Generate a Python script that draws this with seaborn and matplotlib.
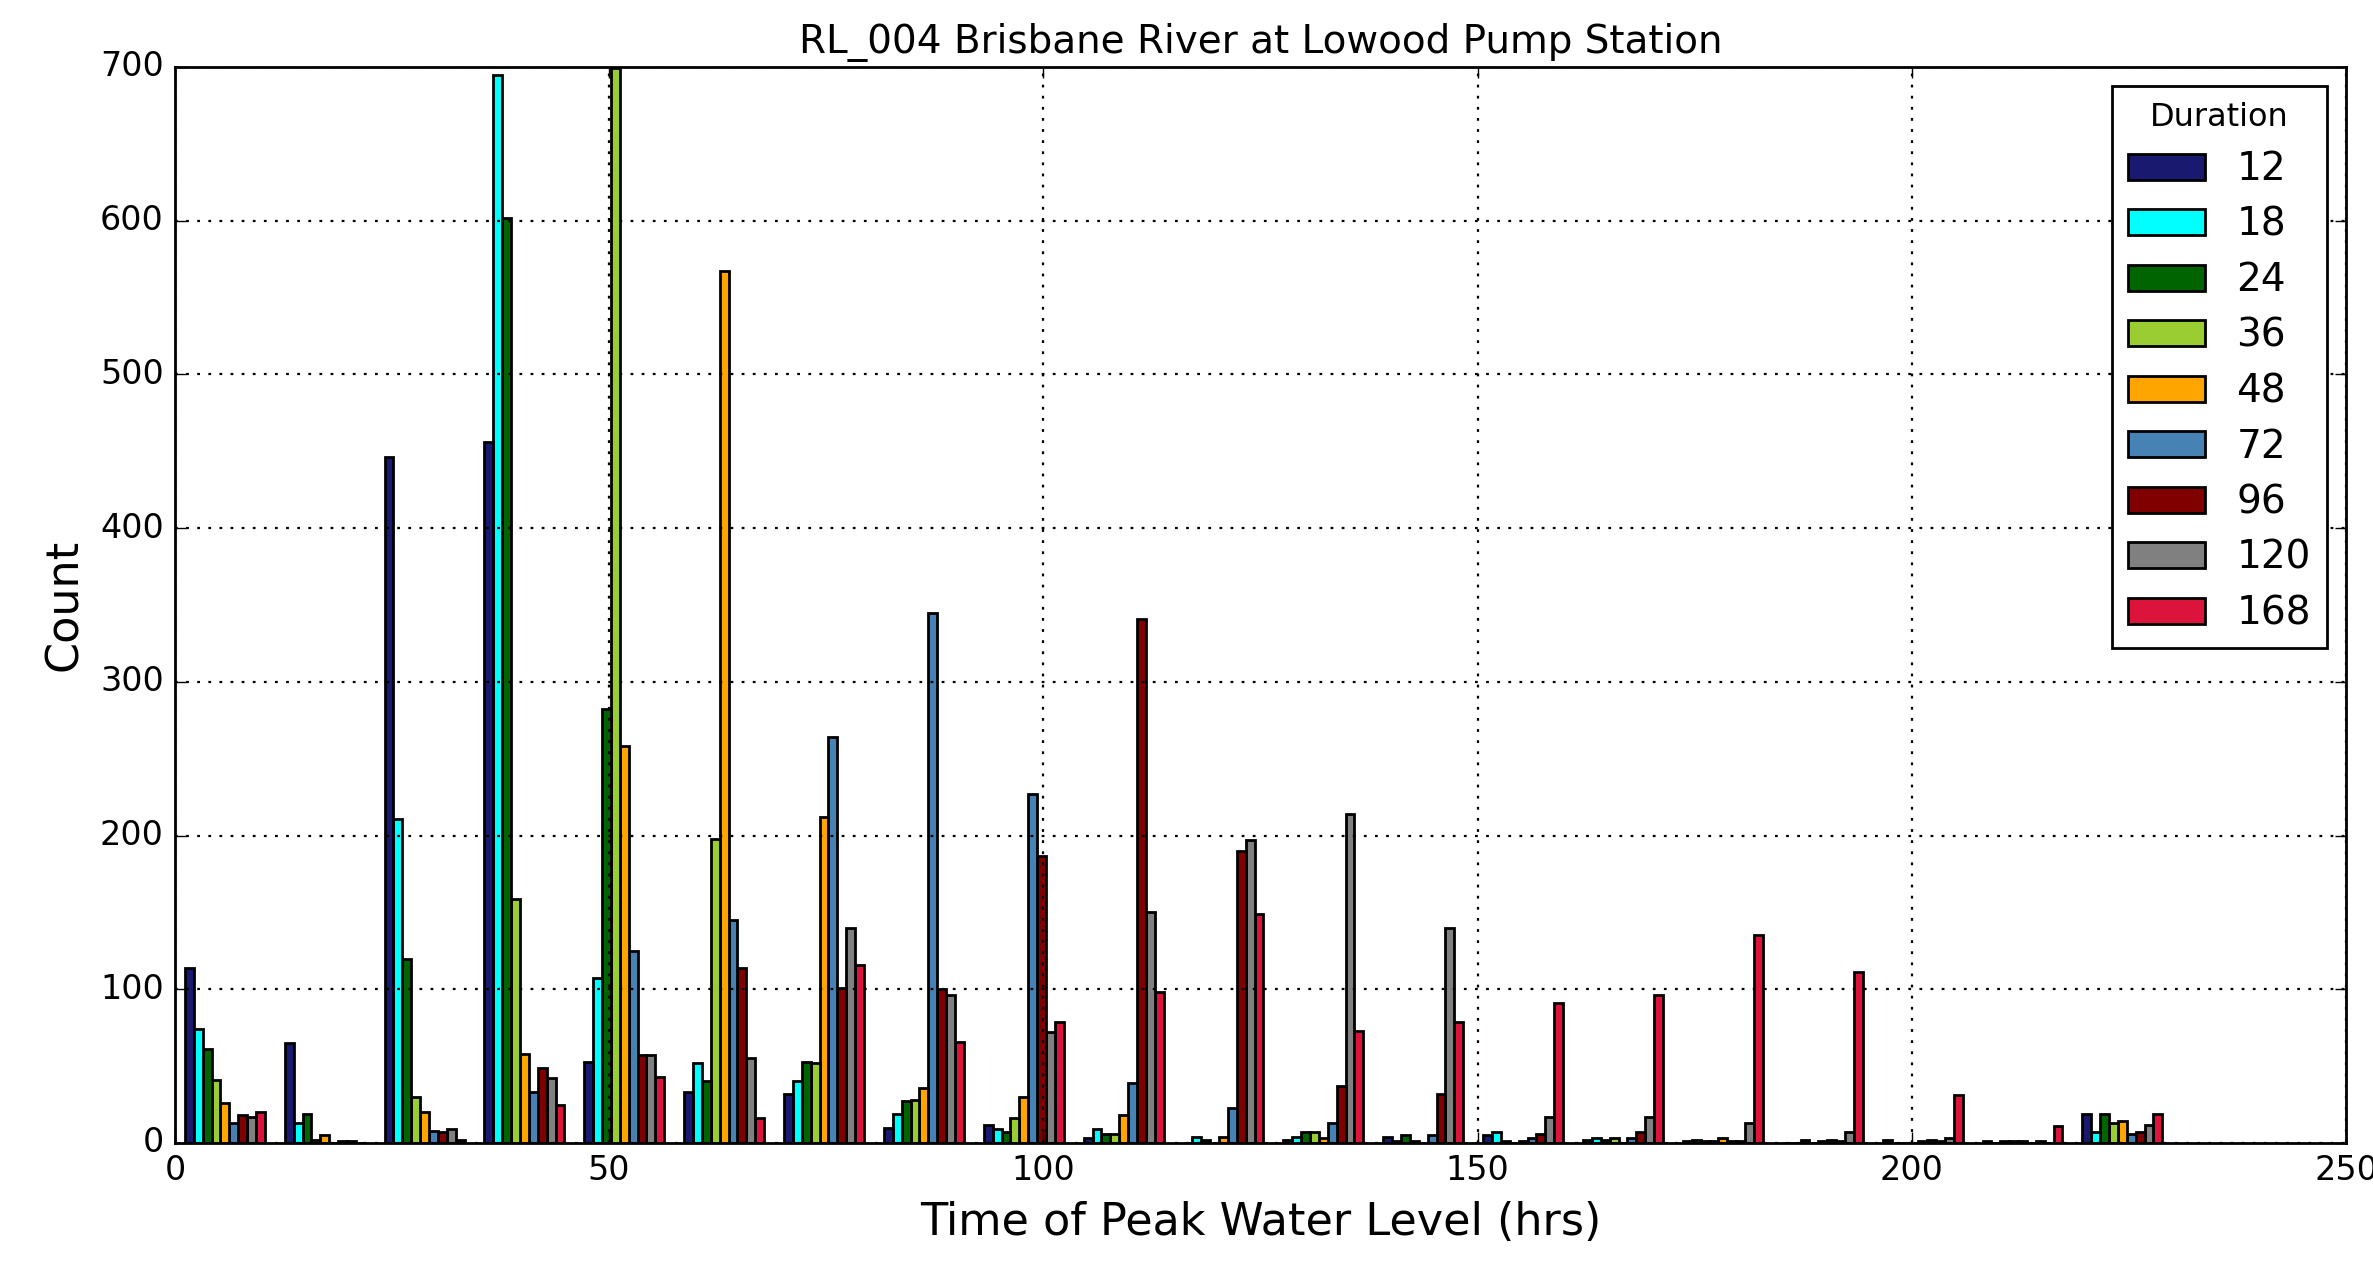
import numpy as np
import pandas as pd
import matplotlib
matplotlib.use("Agg")
import matplotlib.pyplot as plt
from matplotlib.patches import Patch
import seaborn as sns

# bin edges of the peak-time histogram (hrs)
bin_edges = list(np.linspace(0, 230, 21))

durations = ["12", "18", "24", "36", "48", "72", "96", "120", "168"]
colours = ["midnightblue", "cyan", "darkgreen", "yellowgreen", "orange",
           "steelblue", "maroon", "gray", "crimson"]

# counts per bin, one list per storm duration
d12 = [114, 65, 446, 456, 53, 33, 32, 10, 12, 3, 0, 2, 4, 5, 2, 1, 0, 2, 1, 19]
d18 = [74, 13, 211, 695, 107, 52, 40, 19, 9, 9, 4, 4, 1, 7, 3, 2, 0, 0, 0, 7]
d24 = [61, 19, 120, 602, 282, 40, 53, 27, 7, 6, 2, 7, 5, 1, 2, 1, 2, 0, 1, 19]
d36 = [41, 2, 30, 159, 699, 198, 52, 28, 16, 6, 0, 7, 1, 0, 3, 1, 0, 0, 1, 13]
d48 = [26, 5, 20, 58, 258, 567, 212, 36, 30, 18, 4, 3, 0, 1, 0, 3, 1, 1, 1, 14]
d72 = [13, 0, 8, 33, 125, 145, 264, 345, 227, 39, 23, 13, 5, 3, 3, 1, 2, 2, 0, 6]
d96 = [18, 1, 7, 49, 57, 114, 101, 100, 187, 341, 190, 37, 32, 6, 7, 1, 1, 1, 1, 7]
d120 = [17, 1, 9, 42, 57, 55, 140, 96, 72, 150, 197, 214, 140, 17, 17, 13, 7, 3, 0, 12]
d168 = [20, 0, 2, 25, 43, 16, 116, 66, 79, 98, 149, 73, 79, 91, 96, 135, 111, 31, 11, 19]

counts = [d12, d18, d24, d36, d48, d72, d96, d120, d168]

centres = [(a + b) / 2 for a, b in zip(bin_edges[:-1], bin_edges[1:])]
df = pd.concat([pd.DataFrame({"time": centres, "count": c, "duration": d})
                for d, c in zip(durations, counts)], ignore_index=True)

plt.style.use("classic")
plt.rcParams["font.family"] = ["DejaVu Sans"]

fig = plt.figure(figsize=(11.865, 6.305), dpi=200, facecolor="white")
ax = fig.add_axes([0.0737, 0.0936, 0.9149, 0.8533])

sns.histplot(data=df, x="time", weights="count", hue="duration",
             hue_order=durations, palette=dict(zip(durations, colours)),
             bins=bin_edges, multiple="dodge", shrink=0.8, alpha=1,
             edgecolor="black", linewidth=1.0, legend=False, ax=ax)

ax.set_xlim(0, 250)
ax.set_ylim(0, 700)
ax.set_xticks(range(0, 251, 50))
ax.set_yticks(range(0, 701, 100))
ax.tick_params(labelsize=12)
ax.grid(True, color="black", linestyle=":", linewidth=0.8)
ax.set_axisbelow(False)
ax.set_title("RL_004 Brisbane River at Lowood Pump Station", fontsize=14)
ax.set_xlabel("Time of Peak Water Level (hrs)", fontsize=16)
ax.set_ylabel("Count", fontsize=16)

handles = [Patch(facecolor=c, edgecolor="black", label=d)
           for d, c in zip(durations, colours)]
leg = ax.legend(handles=handles, loc="upper right", title="Duration",
                fontsize=14, handlelength=2.0, handleheight=0.65,
                labelspacing=0.45, fancybox=False, borderaxespad=0.5)
leg.get_title().set_fontsize(11.5)
leg.get_frame().set_edgecolor("black")

fig.savefig("out.png", dpi=200, facecolor="white")
